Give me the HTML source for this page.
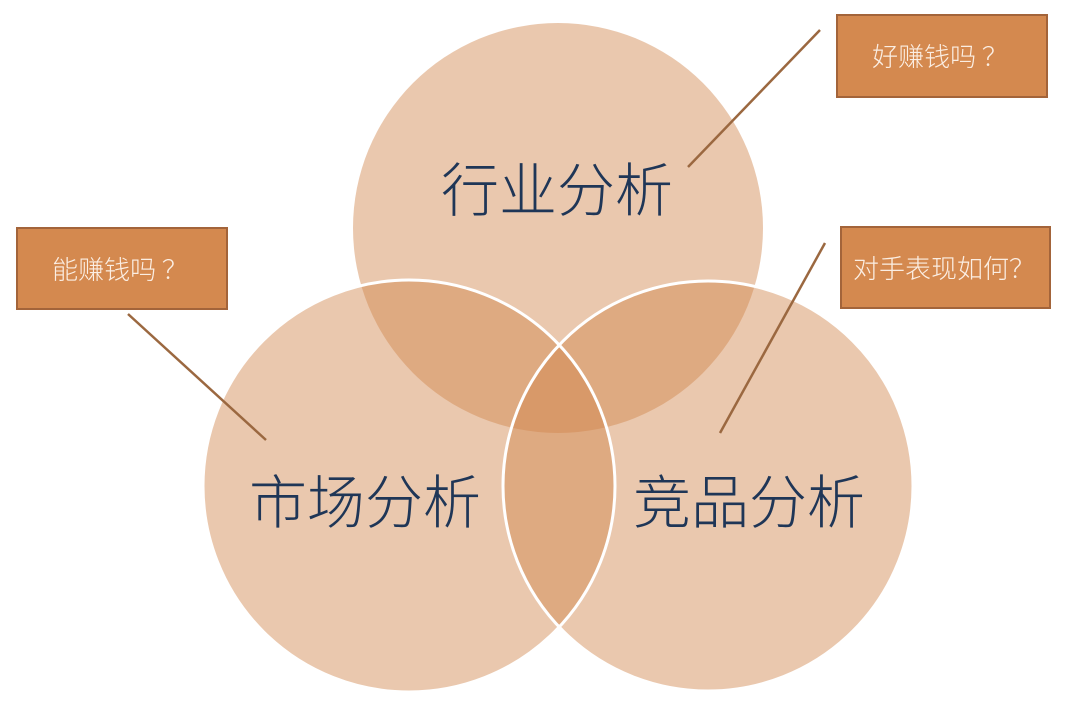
<!DOCTYPE html>
<html><head><meta charset="utf-8"><style>
html,body{margin:0;padding:0;background:#fff;width:1080px;height:704px;overflow:hidden}
svg{display:block}
</style></head><body>
<svg width="1080" height="704" viewBox="0 0 1080 704" xmlns="http://www.w3.org/2000/svg" font-family="'Liberation Sans','Noto Sans CJK SC',sans-serif">
<defs>
<clipPath id="ct"><circle cx="558" cy="228" r="205"/></clipPath>
</defs>
<g fill="rgba(208,134,76,0.45)">
<circle cx="558" cy="228" r="205"/>
<circle cx="409" cy="486" r="206"/>
<circle cx="708" cy="486" r="205"/>
</g>
<g fill="none" stroke="#fff" stroke-width="3">
<circle cx="409" cy="486" r="206"/>
<circle cx="708" cy="486" r="205"/>
</g>
<g font-family="'Noto Sans CJK SC',sans-serif" font-weight="300" font-size="58" fill="#1f3657" text-anchor="middle">
<text x="557" y="211">行业分析</text>
<text x="365" y="523">市场分析</text>
<text x="749" y="523">竞品分析</text>
</g>
<g stroke="#9b6840" stroke-width="2.5">
<line x1="820" y1="30" x2="688" y2="167"/>
<line x1="825" y1="243" x2="720" y2="433"/>
<line x1="128" y1="314" x2="266" y2="440"/>
</g>
<g fill="#d4894f" stroke="#a3643a" stroke-width="2">
<rect x="837" y="15" width="210" height="82"/>
<rect x="841" y="227" width="209" height="81"/>
<rect x="17" y="228" width="210" height="81"/>
</g>
<g fill="#fbeee3" font-family="'Noto Sans CJK SC',sans-serif" font-weight="300" font-size="26" text-anchor="middle">
<text x="940" y="66">好赚钱吗 ？</text>
<text x="944" y="278">对手表现如何？</text>
<text x="120" y="279">能赚钱吗 ？</text>
</g>
</svg>
</body></html>
